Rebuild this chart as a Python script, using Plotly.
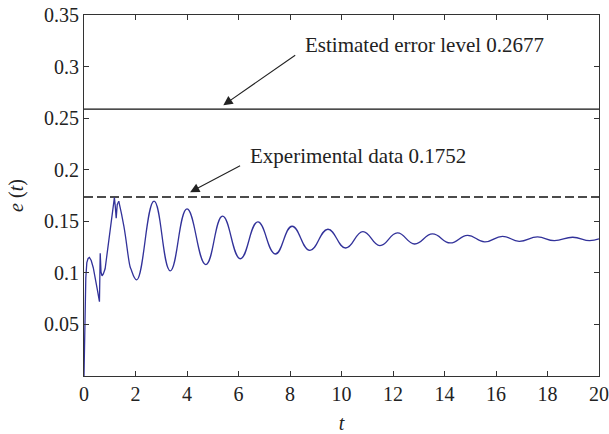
import plotly.graph_objects as go

# ---- data ----
t_early = [0.0, 0.03, 0.07, 0.11, 0.16, 0.21, 0.28, 0.36, 0.45, 0.53, 0.60, 0.63, 0.66, 0.70, 0.75, 0.82, 0.92, 1.02, 1.10, 1.18, 1.22, 1.25, 1.29, 1.35]
e_early = [0.0, 0.05, 0.095, 0.110, 0.114, 0.115, 0.112, 0.105, 0.094, 0.082, 0.072, 0.119, 0.101, 0.097, 0.099, 0.104, 0.123, 0.143, 0.158, 0.173, 0.163, 0.153, 0.166, 0.1695]

t_osc = [1.35, 1.55, 1.78, 1.82, 2.05, 2.72, 3.35, 4.0, 4.73, 5.38, 6.07, 6.75, 7.43, 8.08, 8.77, 9.47, 10.16,
         10.83, 11.49, 12.17, 12.84, 13.53, 14.22, 14.89, 15.56, 16.25, 16.9, 17.61, 18.26, 18.98, 19.63, 20.0]
e_osc = [0.1695, 0.145, 0.107, 0.104, 0.0933, 0.1695, 0.102, 0.162, 0.108, 0.155, 0.1137, 0.1494, 0.1183, 0.1452,
         0.1218, 0.1423, 0.1241, 0.140, 0.1264, 0.1387, 0.128, 0.1377, 0.129, 0.1364, 0.130, 0.1354, 0.1306,
         0.1348, 0.1312, 0.1345, 0.1312, 0.133]

t_span = [0, 20]
estimated_level = 0.2587      # drawn position of "Estimated error level"
experimental_level = 0.1735   # drawn position of "Experimental data"

x_ticks = [0, 2, 4, 6, 8, 10, 12, 14, 16, 18, 20]
y_ticks = [0.05, 0.1, 0.15, 0.2, 0.25, 0.3, 0.35]
y_tick_labels = ["0.05", "0.1", "0.15", "0.2", "0.25", "0.3", "0.35"]

label_est = "Estimated error level 0.2677"
label_exp = "Experimental data 0.1752"

FONT = "Liberation Serif"
CURVE = "#32329a"
TXT = "#222222"

fig = go.Figure()
fig.add_trace(go.Scatter(x=t_span, y=[estimated_level] * 2, mode="lines",
                         line=dict(color="#111111", width=1.3), showlegend=False))
fig.add_trace(go.Scatter(x=t_span, y=[experimental_level] * 2, mode="lines",
                         line=dict(color="#111111", width=1.4, dash="9px,4px"), showlegend=False))
fig.add_trace(go.Scatter(x=t_early, y=e_early, mode="lines",
                         line=dict(color=CURVE, width=1.3), showlegend=False))
fig.add_trace(go.Scatter(x=t_osc, y=e_osc, mode="lines",
                         line=dict(color=CURVE, width=1.3, shape="spline", smoothing=1.3), showlegend=False))

# annotations: arrows and texts
fig.add_annotation(x=5.41, y=0.2625, ax=8.26, ay=0.312, xref="x", yref="y", axref="x", ayref="y",
                   text="", showarrow=True, arrowhead=2, arrowsize=1.7, arrowwidth=1.1, arrowcolor=TXT)
fig.add_annotation(x=4.12, y=0.1782, ax=6.12, ay=0.2045, xref="x", yref="y", axref="x", ayref="y",
                   text="", showarrow=True, arrowhead=2, arrowsize=1.7, arrowwidth=1.1, arrowcolor=TXT)
fig.add_annotation(x=8.52, y=0.3208, xref="x", yref="y", text=label_est, showarrow=False,
                   xanchor="left", yanchor="middle", font=dict(family=FONT, size=21, color=TXT))
fig.add_annotation(x=6.38, y=0.2132, xref="x", yref="y", text=label_exp, showarrow=False,
                   xanchor="left", yanchor="middle", font=dict(family=FONT, size=21, color=TXT))

axis_common = dict(showgrid=False, zeroline=False, showline=True, linecolor="#333333", linewidth=1.2,
                   mirror="ticks", ticks="inside", ticklen=5, tickcolor="#333333", automargin=False,
                   tickfont=dict(family=FONT, size=20, color=TXT))

fig.update_xaxes(range=[0, 20], tickvals=x_ticks, ticktext=[str(v) for v in x_ticks],
                 title=dict(text="<i>t</i>", font=dict(family=FONT, size=20, color=TXT), standoff=14),
                 **axis_common)
fig.update_yaxes(range=[0, 0.35], tickvals=y_ticks, ticktext=y_tick_labels,
                 title=dict(text="<i>e</i> (<i>t</i>)", font=dict(family=FONT, size=20, color=TXT), standoff=14),
                 **axis_common)

fig.update_layout(width=609, height=434, margin=dict(l=84, r=10, t=15, b=58),
                  plot_bgcolor="white", paper_bgcolor="white")

fig.write_html("out.html")
